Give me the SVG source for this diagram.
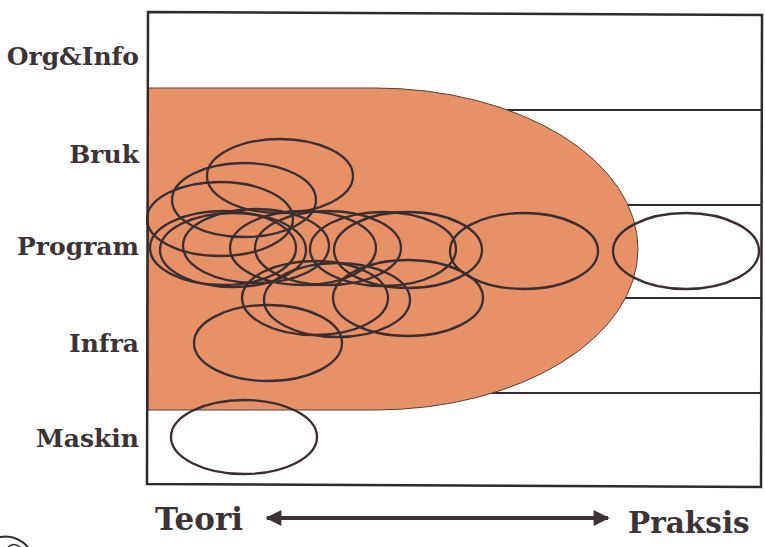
<svg xmlns="http://www.w3.org/2000/svg" width="765" height="547" viewBox="0 0 765 547">
  <defs>
    <style>
      .lbl { font-family: "DejaVu Serif", "Liberation Serif", serif; font-weight: bold; font-size: 25px; fill: #3b3336; text-anchor: end; }
      .axis { font-family: "DejaVu Serif", "Liberation Serif", serif; font-weight: bold; font-size: 31px; fill: #3b3336; }
      .row { stroke: #2f2a2c; stroke-width: 2; fill: none; }
      .ell { stroke: #3a2e30; stroke-width: 2.3; fill: none; }
    </style>
    <marker id="ah" viewBox="0 0 10 10" refX="9" refY="5" markerWidth="5" markerHeight="4" orient="auto-start-reverse" markerUnits="strokeWidth">
      <path d="M0,0 L10,5 L0,10 Z" fill="#3b3336"/>
    </marker>
  </defs>
  <rect width="765" height="547" fill="#ffffff"/>

  <g id="frame-rows">
    <line class="row" x1="400" y1="110" x2="762" y2="110"/>
    <line class="row" x1="400" y1="205" x2="762" y2="205"/>
    <line class="row" x1="400" y1="298" x2="762" y2="298"/>
    <line class="row" x1="400" y1="393" x2="762" y2="393"/>
  </g>

  <g id="zone">
    <path d="M148,88 L375,88 A263,161 0 0 1 375,410 L148,410 Z" fill="#e79169" stroke="#5a4038" stroke-width="1"/>
  </g>

  <g id="ellipses">
    <ellipse class="ell" cx="280" cy="176" rx="73" ry="37"/>
    <ellipse class="ell" cx="244" cy="200" rx="72" ry="37"/>
    <ellipse class="ell" cx="220" cy="219" rx="73" ry="37"/>
    <ellipse class="ell" cx="223" cy="248" rx="73" ry="37"/>
    <ellipse class="ell" cx="233" cy="250" rx="73" ry="37"/>
    <ellipse class="ell" cx="256" cy="246" rx="73" ry="37"/>
    <ellipse class="ell" cx="303" cy="248" rx="73" ry="37"/>
    <ellipse class="ell" cx="328" cy="248" rx="73" ry="37"/>
    <ellipse class="ell" cx="383" cy="249" rx="73" ry="37"/>
    <ellipse class="ell" cx="408" cy="250" rx="74" ry="38"/>
    <ellipse class="ell" cx="524" cy="251" rx="74" ry="38"/>
    <ellipse class="ell" cx="686" cy="251" rx="73" ry="38"/>
    <ellipse class="ell" cx="315" cy="298" rx="73" ry="37"/>
    <ellipse class="ell" cx="337" cy="300" rx="73" ry="37"/>
    <ellipse class="ell" cx="408" cy="298" rx="75" ry="38"/>
    <ellipse class="ell" cx="268" cy="343" rx="74" ry="38"/>
    <ellipse class="ell" cx="244" cy="437" rx="73" ry="37"/>
  </g>

  <g id="frame">
    <polygon points="148,12 762,15 761,487 147,484" fill="none" stroke="#2f2a2c" stroke-width="2.5"/>
  </g>

  <g id="labels">
    <text class="lbl" x="139" y="65">Org&amp;Info</text>
    <text class="lbl" x="139" y="163">Bruk</text>
    <text class="lbl" x="139" y="255">Program</text>
    <text class="lbl" x="139" y="352">Infra</text>
    <text class="lbl" x="139" y="447">Maskin</text>
  </g>

  <g id="axis">
    <text class="axis" x="155" y="530">Teori</text>
    <text class="axis" x="628" y="533" style="font-size:29.5px">Praksis</text>
    <line x1="267" y1="518" x2="608" y2="518" stroke="#3b3336" stroke-width="4" marker-start="url(#ah)" marker-end="url(#ah)"/>
  </g>

  <g id="corner-mark">
    <path d="M0,537 Q16,534 28,547" fill="none" stroke="#2f2a2c" stroke-width="2"/>
    <path d="M8,547 Q14,542 20,547" fill="none" stroke="#2f2a2c" stroke-width="1.5"/>
  </g>
</svg>
